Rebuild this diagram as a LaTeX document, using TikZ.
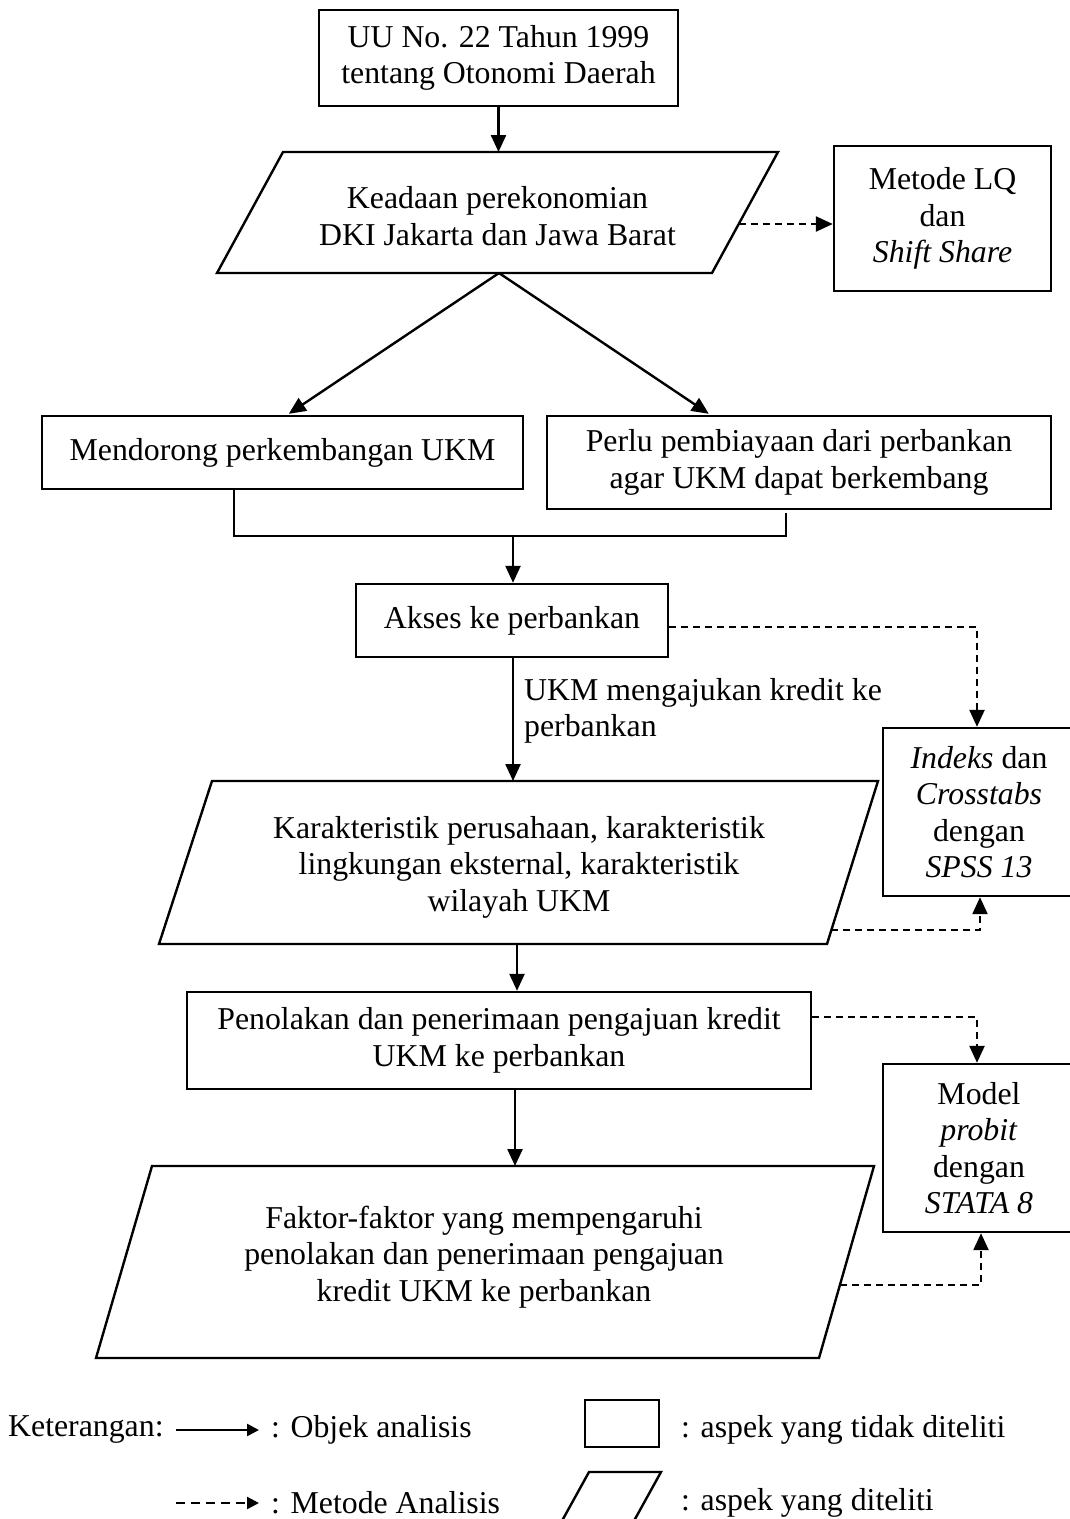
\documentclass[tikz,border=0pt]{standalone}
\usepackage{fontspec}
\setmainfont{Liberation Serif}
\usetikzlibrary{arrows.meta,calc}
\begin{document}
\begin{tikzpicture}[x=1pt,y=-1pt,
  every node/.style={font=\fontsize{31.8}{36.5}\selectfont},
  box/.style={draw,line width=2.4pt,inner sep=0pt,align=center},
  para/.style={draw,line width=2.4pt,line join=miter},
  txt/.style={inner sep=0pt,align=center},
  arr/.style={-{Triangle[length=17pt,width=15pt]},line width=2.4pt},
  darr/.style={arr,dash pattern=on 7pt off 5pt},
  plain/.style={line width=2.4pt},
  larr/.style={-{Triangle[length=12pt,width=12pt]},line width=2.4pt}]
\useasboundingbox (0,0) rectangle (1070,1519);

% top box
\node[box,minimum width=359pt,minimum height=96pt] (n1) at (498.5,58) {UU No. 22 Tahun 1999\\tentang Otonomi Daerah};

% parallelogram 1
\coordinate (p1a) at (283,152);
\coordinate (p1b) at (778,152);
\coordinate (p1c) at (712,273);
\coordinate (p1d) at (217,273);
\draw[para] (p1a) -- (p1b) -- (p1c) -- (p1d) -- cycle;
\node[txt] (p1) at (497.5,216) {Keadaan perekonomian\\DKI Jakarta dan Jawa Barat};
\coordinate (p1top) at (498.5,152);
\coordinate (p1bot) at (499,273);
\coordinate (p1r) at (738.7,224);

% LQ box
\node[box,minimum width=217pt,minimum height=145pt] (lq) at (942.5,218.5) {Metode LQ\\dan\\\textit{Shift Share}};

% second row
\node[box,minimum width=481pt,minimum height=73pt] (b2) at (282.5,452.5) {Mendorong perkembangan UKM};
\node[box,minimum width=504pt,minimum height=93pt] (b3) at (799,462.5) {Perlu pembiayaan dari perbankan\\agar UKM dapat berkembang};

% akses
\node[box,minimum width=312pt,minimum height=73pt] (b4) at (512,620.5) {Akses ke perbankan};
\coordinate (j1) at (513,536);

% indeks box
\node[box,minimum width=192pt,minimum height=168pt] (b5) at (979,812) {\textit{Indeks} dan\\\textit{Crosstabs}\\dengan\\\textit{SPSS 13}};

% parallelogram 2
\coordinate (p2a) at (212,781);
\coordinate (p2b) at (878,781);
\coordinate (p2c) at (827,944);
\coordinate (p2d) at (159,944);
\draw[para] (p2a) -- (p2b) -- (p2c) -- (p2d) -- cycle;
\node[txt] (p2) at (519,867) {Karakteristik perusahaan, karakteristik\\lingkungan eksternal, karakteristik\\wilayah UKM};
\coordinate (p2r) at (831.4,930);
\coordinate (p2bot) at (517,944);

% penolakan
\node[box,minimum width=624pt,minimum height=97pt] (b6) at (499,1040.5) {Penolakan dan penerimaan pengajuan kredit\\UKM ke perbankan};

% model box
\node[box,minimum width=192pt,minimum height=168pt] (b7) at (979,1148) {Model\\\textit{probit}\\dengan\\\textit{STATA 8}};

% parallelogram 3
\coordinate (p3a) at (152,1166);
\coordinate (p3b) at (874,1166);
\coordinate (p3c) at (819,1358);
\coordinate (p3d) at (96,1358);
\draw[para] (p3a) -- (p3b) -- (p3c) -- (p3d) -- cycle;
\node[txt] (p3) at (484,1257) {Faktor-faktor yang mempengaruhi\\penolakan dan penerimaan pengajuan\\kredit UKM ke perbankan};
\coordinate (p3r) at (839.9,1285);

% connectors
\draw[arr] (n1.south) -- (p1top);
\draw[darr] (p1r) -- (p1r -| lq.west);
\draw[arr] (p1bot) -- ($(b2.north west)+(248,-1)$);
\draw[arr] (p1bot) -- ($(b3.north west)+(163,-1)$);
\draw[plain] ($(b2.south west)+(193,0)$) |- (j1) -| ($(b3.south west)+(240,3)$);
\draw[arr] (j1) -- (j1 |- b4.north);
\draw[darr] ($(b4.east)+(0,6.5)$) -| ([xshift=-2pt]b5.north);
\draw[arr] (b4.south -| j1) -- (j1 |- p2a);
\node[txt,align=left,anchor=west] (lab) at (524,711) {UKM mengajukan kredit ke\\perbankan};
\draw[darr] (p2r) -| ([xshift=1pt]b5.south);
\draw[arr] (p2bot) -- (p2bot |- b6.north);
\draw[darr] ($(b6.east)+(0,-23.5)$) -| ([xshift=-2pt]b7.north);
\coordinate (b6s) at (515,1089);
\draw[arr] (b6s) -- (b6s |- p3a);
\draw[darr] (p3r) -| ([xshift=2pt]b7.south);

% legend
\node[txt,anchor=west] (ket) at (8,1430) {Keterangan:};
\coordinate (la1) at (176,1430);
\coordinate (la2) at (259,1430);
\draw[larr] (la1) -- (la2);
\node[txt,anchor=west] (l1) at (271,1430) {: Objek analisis};
\node[draw,line width=2.4pt,minimum width=74pt,minimum height=47pt,inner sep=0pt] (lr) at (622,1423.5) {};
\node[txt,anchor=west] (l2) at (681,1430) {: aspek yang tidak diteliti};
\coordinate (lb1) at (176,1503);
\coordinate (lb2) at (259,1503);
\draw[larr,dash pattern=on 9pt off 6pt] (lb1) -- (lb2);
\node[txt,anchor=west] (l3) at (271,1503) {: Metode Analisis};
\draw[para] (589,1472) -- (661,1472) -- (631.7,1525) -- (559.7,1525) -- cycle;
\node[txt,anchor=west] (l4) at (681,1503) {: aspek yang diteliti};
\end{tikzpicture}
\end{document}
